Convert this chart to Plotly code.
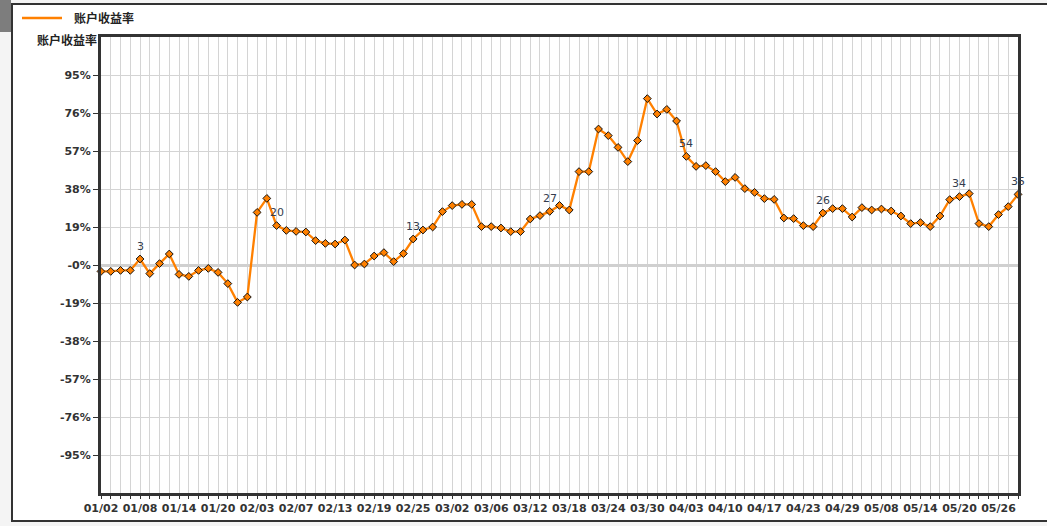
import plotly.graph_objects as go

# ---- data ----
returns_pct = [
    -3.2, -3.2, -2.7, -2.7, 3.0, -4.3, 0.7, 5.5, -4.7, -5.7, -2.7, -1.7,
    -3.7, -9.3, -18.7, -16.0, 26.3, 33.3, 19.7, 17.3, 16.8, 16.5, 12.2, 10.8,
    10.5, 12.5, 0.0, 0.5, 4.5, 6.2, 1.7, 5.7, 13.0, 17.5, 19.0, 26.7,
    29.7, 30.3, 30.3, 19.2, 19.2, 18.5, 16.7, 16.7, 23.0, 24.7, 26.8, 29.8,
    27.5, 46.7, 46.7, 68.0, 64.7, 58.8, 51.7, 62.2, 83.2, 75.5, 77.8, 72.0,
    54.3, 49.3, 49.7, 46.7, 41.7, 43.8, 38.2, 36.3, 33.2, 32.8, 23.5, 23.2,
    19.7, 19.2, 26.0, 28.2, 28.2, 24.0, 28.7, 27.5, 28.0, 27.0, 24.5, 20.7,
    21.2, 19.2, 24.5, 32.7, 34.2, 35.7, 20.7, 19.2, 25.2, 29.2, 35.3,
]
date_labels = [
    "01/02", "01/08", "01/14", "01/20", "02/03", "02/07", "02/13", "02/19",
    "02/25", "03/02", "03/06", "03/12", "03/18", "03/24", "03/30", "04/03",
    "04/10", "04/17", "04/23", "04/29", "05/08", "05/14", "05/20", "05/26",
]
label_every = 4
labeled_points = [4, 18, 32, 46, 60, 74, 88, 94]
y_ticks = [-95, -76, -57, -38, -19, 0, 19, 38, 57, 76, 95]
series_name = "账户收益率"

# ---- figure ----
x = list(range(len(returns_pct)))
tickvals = x
ticktext = [date_labels[i // label_every] if i % label_every == 0 and i // label_every < len(date_labels) else ""
            for i in x]
yticktext = ["-0%" if v == 0 else f"{v}%" for v in y_ticks]

ORANGE = "#ff8000"
DARK = "#333333"
GRID = "#d4d4d4"

fig = go.Figure()
fig.add_trace(go.Scatter(
    x=x, y=returns_pct, mode="lines+markers", showlegend=False, name=series_name,
    line=dict(color=ORANGE, width=2.3),
    marker=dict(symbol="diamond", size=6, color=ORANGE, line=dict(color="#111111", width=1)),
    cliponaxis=False, hoverinfo="y",
))

for i in labeled_points:
    fig.add_annotation(
        x=i, y=returns_pct[i], text=str(round(returns_pct[i])), showarrow=False,
        yshift=13, font=dict(family="DejaVu Sans", size=11, color="#343c4e"),
    )

L, R, T, B = 101, 29, 37, 33
W, H = 1047, 526
pw, ph = W - L - R, H - T - B


def px_x(p):
    return (p - L) / pw


def px_y(p):
    return (H - B - p) / ph


# white panel behind chart
fig.add_shape(type="rect", xref="paper", yref="paper",
              x0=px_x(12), x1=px_x(1060), y0=px_y(521), y1=px_y(4),
              fillcolor="white", line=dict(color="#333333", width=2), layer="below")
# dark strip top-left of page
fig.add_shape(type="rect", xref="paper", yref="paper",
              x0=px_x(0), x1=px_x(11), y0=px_y(32), y1=px_y(0),
              fillcolor="#7d7d7d", line=dict(width=0), layer="below")

# legend (line sample + series name)
fig.add_shape(type="line", xref="paper", yref="paper",
              x0=px_x(22), x1=px_x(62), y0=px_y(18), y1=px_y(18),
              line=dict(color=ORANGE, width=2.3))
fig.add_annotation(
    xref="paper", yref="paper", x=px_x(72), y=px_y(18), xanchor="left", yanchor="middle",
    text=f"<b>{series_name}</b>", showarrow=False,
    font=dict(family="Noto Sans CJK SC", size=12, color="#222222"),
)

# axis title at top-left
fig.add_annotation(
    xref="paper", yref="paper", x=px_x(35), y=px_y(40), xanchor="left", yanchor="middle",
    text=f"<b>{series_name}</b>", showarrow=False,
    font=dict(family="Noto Sans CJK SC", size=12, color="#222222"),
)

fig.update_layout(
    width=W, height=H,
    margin=dict(l=L, r=R, t=T, b=B, autoexpand=False),
    paper_bgcolor="#f4f4f4",
    plot_bgcolor="white",
    showlegend=False,
    font=dict(family="DejaVu Sans", size=11, color=DARK),
    xaxis=dict(
        range=[0, len(returns_pct) - 1], automargin=False,
        tickmode="array", tickvals=tickvals, ticktext=ticktext,
        showgrid=True, gridcolor=GRID, gridwidth=1,
        showline=True, linecolor=DARK, linewidth=3, mirror=True,
        ticks="outside", ticklen=3, tickcolor=DARK, tickwidth=1,
        tickfont=dict(family="DejaVu Sans", size=11, color=DARK, weight="bold"),
        zeroline=False, fixedrange=True,
    ),
    yaxis=dict(
        range=[-114, 114], automargin=False,
        tickmode="array", tickvals=y_ticks, ticktext=yticktext,
        showgrid=True, gridcolor=GRID, gridwidth=1,
        zeroline=True, zerolinecolor="#d0d0d0", zerolinewidth=3,
        showline=True, linecolor=DARK, linewidth=3, mirror=True,
        ticks="outside", ticklen=5, tickcolor=DARK, tickwidth=1,
        tickfont=dict(family="DejaVu Sans", size=11, color=DARK, weight="bold"),
        fixedrange=True,
    ),
)

fig.write_html(
    "out.html",
    config={"displayModeBar": False},
    post_script="document.body.style.margin='0';document.body.style.overflow='hidden';",
)
